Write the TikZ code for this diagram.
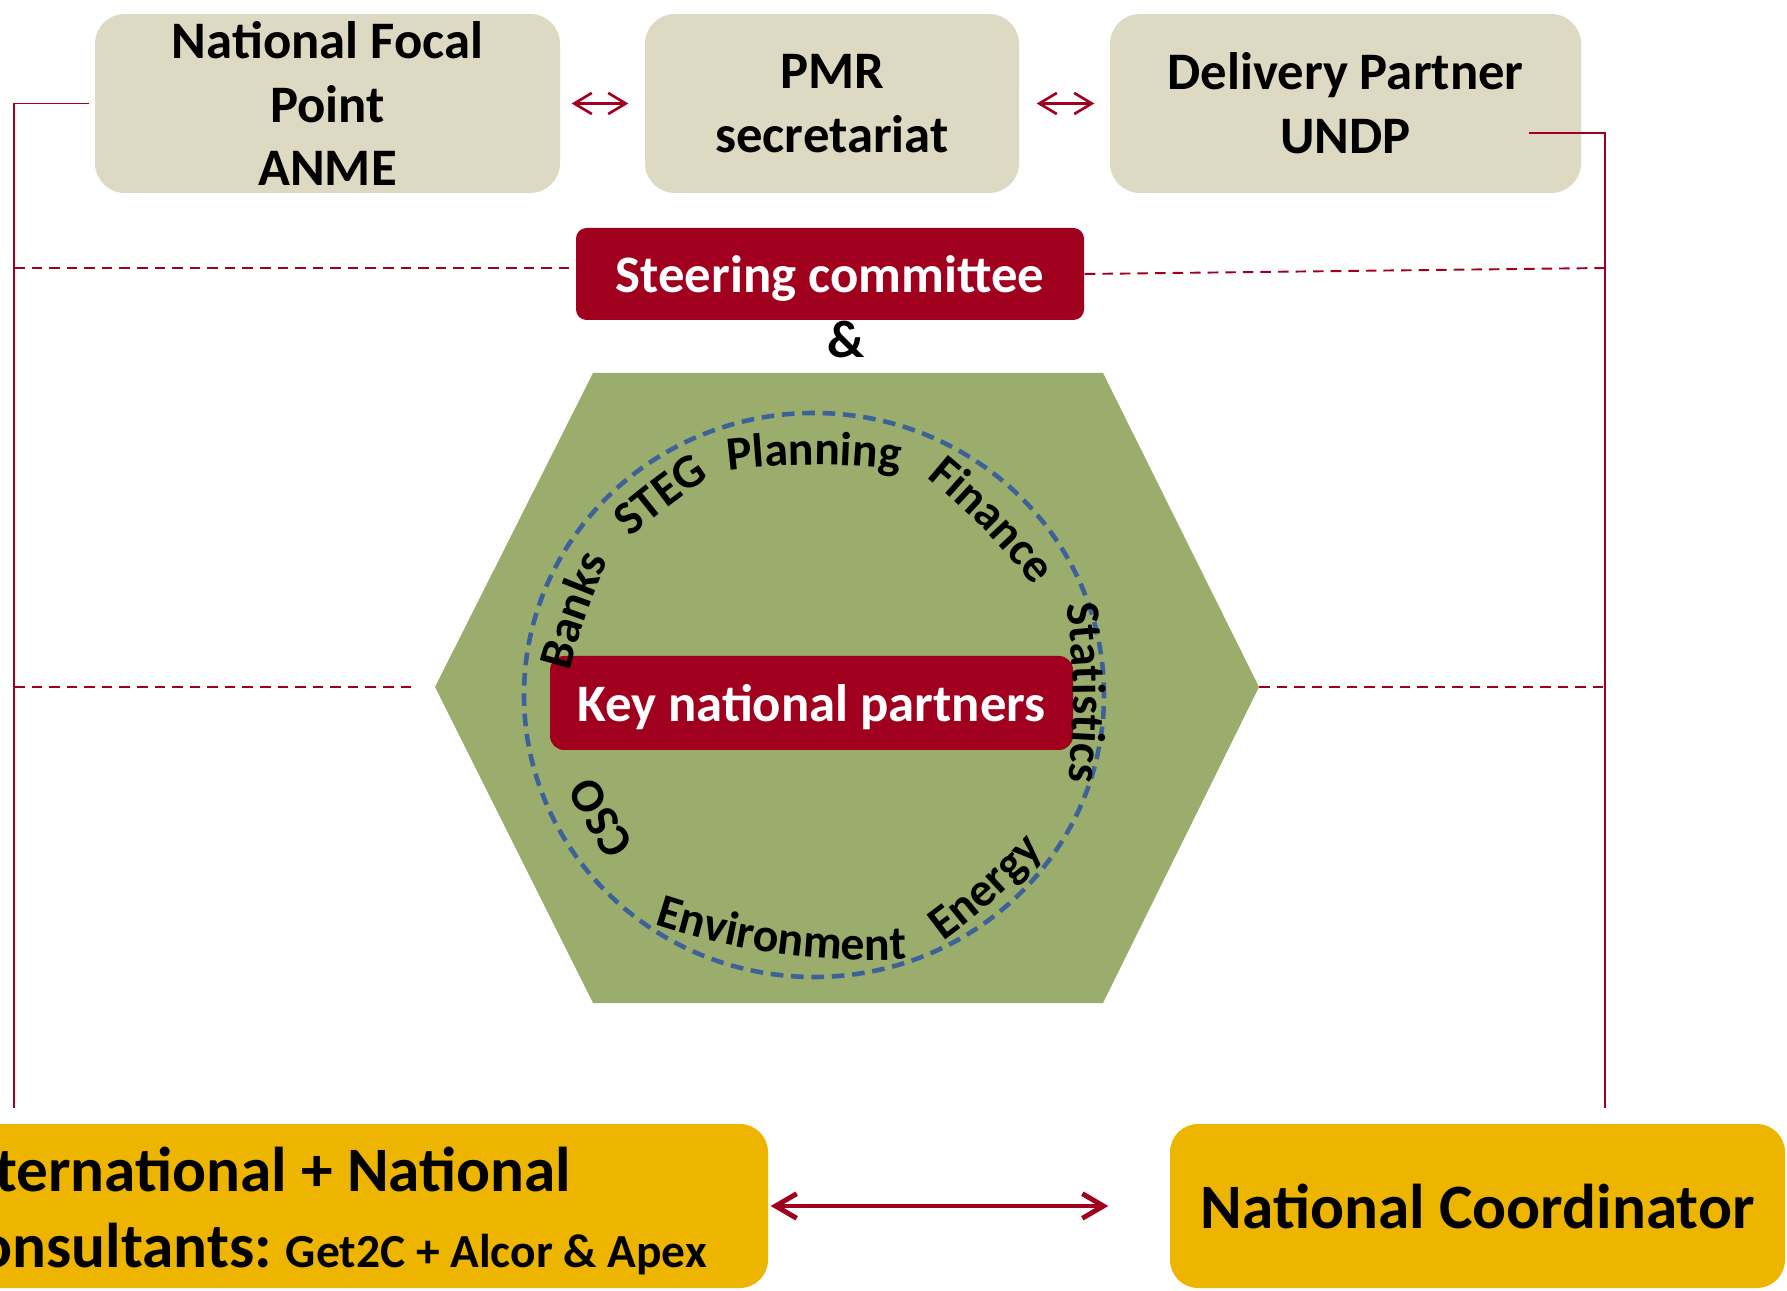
\documentclass[tikz,border=0pt]{standalone}
\usepackage{fontspec}
\setmainfont{Carlito}
\usetikzlibrary{arrows.meta,decorations.text,calc}

\definecolor{boxtan}{HTML}{DDD9C3}
\definecolor{deepred}{HTML}{A0001E}
\definecolor{hexgreen}{HTML}{9AAD6C}
\definecolor{ringblue}{HTML}{3D6299}
\definecolor{gold}{HTML}{EDB500}

\newcommand{\ringfont}{\fontsize{13.6}{16}\selectfont\bfseries}
% word on a flat arc: angle on the ring, baseline radius, word, +1 clockwise / -1 anticlockwise
\newcommand{\partnerarc}[4]{%
  \path[decorate, decoration={text along path, text align=center, text={|\ringfont|#3}}]
    ($(ring)+(#1:#2)-(#1:7)+(#1+18*#4:7)$) arc[start angle=#1+18*#4, end angle=#1-18*#4, radius=7];}

\tikzset{
  topbox/.style={fill=boxtan, rounded corners=8.5pt, align=center, inner sep=0pt,
    minimum height=1.79cm, font=\fontsize{15}{18.2}\selectfont\bfseries},
  redbox/.style={fill=deepred, text=white, inner sep=0pt, text depth=0pt,
    font=\fontsize{15}{18}\selectfont\bfseries},
  goldbox/.style={fill=gold, rounded corners=8pt, inner sep=0pt,
    minimum height=1.64cm, font=\fontsize{18}{21.6}\selectfont\bfseries},
  link/.style={draw=deepred, line width=0.5pt},
  dashlink/.style={draw=deepred, line width=0.55pt, dash pattern=on 3pt off 2pt},
  twoway/.style={draw=deepred, line width=0.75pt,
    {Straight Barb[length=5pt,width=6pt]}-{Straight Barb[length=5pt,width=6pt]}}
}

\begin{document}
\begin{tikzpicture}
  \useasboundingbox (0,0) rectangle (17.87,12.90);
  \clip (0,0) rectangle (17.87,12.90);

  % top row
  \node[topbox, minimum width=4.65cm] (nfp) at (3.275,11.865) {National Focal\\Point\\ANME};
  \node[topbox, minimum width=3.74cm] (pmr) at (8.32,11.865) {PMR\\secretariat};
  \node[topbox, minimum width=4.71cm] (dp) at (13.455,11.865) {Delivery Partner\\UNDP};
  \draw[twoway, shorten <=0.11cm, shorten >=0.16cm] (nfp) -- (pmr);
  \draw[twoway, shorten <=0.17cm, shorten >=0.15cm] (pmr) -- (dp);

  % steering committee
  \node[redbox, rounded corners=3pt, minimum width=5.08cm, minimum height=0.92cm] (steer) at (8.30,10.16) {Steering committee};
  \node[font=\fontsize{15}{18}\selectfont\bfseries] (amp) at (8.46,9.50) {\&};

  % hexagon with the ring of partners
  \coordinate (hl) at (4.35,6.03);
  \coordinate (hr) at (12.59,6.03);
  \fill[hexgreen] (hl) -- (5.93,9.17) -- (11.03,9.17) -- (hr) -- (11.03,2.87) -- (5.93,2.87) -- cycle;
  \coordinate (ring) at (8.14,5.95);
  \draw[ringblue, line width=1.3pt, dash pattern=on 3.6pt off 2.2pt] (ring) ellipse [x radius=2.9, y radius=2.82];
  \node[redbox, rounded corners=4pt, minimum width=5.23cm, minimum height=0.94cm] (key) at (8.115,5.87) {Key national partners};

  \partnerarc{90}{2.30}{Planning}{1}
  \partnerarc{127.5}{2.38}{STEG}{1}
  \partnerarc{44.5}{2.37}{Finance}{1}
  \partnerarc{0.5}{2.59}{Statistics}{1}
  \partnerarc{160.6}{2.41}{Banks}{1}
  \partnerarc{210}{2.31}{CSO}{1}
  \partnerarc{262.3}{2.61}{Environment}{-1}
  \partnerarc{311.7}{2.73}{Energy}{-1}

  % side links
  \coordinate (lb) at (0.14,1.82);
  \coordinate (rb) at (16.05,1.82);
  \coordinate (dpin) at (15.29,11.57);
  \draw[link, shorten <=0.05cm] (nfp.west) -| (lb);
  \draw[link] (dpin) -| (rb);

  \coordinate (lt) at (0.14,10.22);
  \coordinate (lm) at (0.14,6.03);
  \draw[dashlink] (lt) -- (lt -| steer.west);
  \draw[dashlink] (steer.east) -- (lt -| rb);
  \draw[dashlink, shorten >=0.22cm] (lm) -- (hl);
  \draw[dashlink] (hr) -- (lm -| rb);

  % bottom row
  \node[goldbox, text width=7.94cm, inner xsep=0.29cm, align=flush left] (cons) at (3.42,0.84)
    {\rule{0pt}{15.5pt}International + National\\Consultants:{\fontsize{13.5}{16}\selectfont{} Get2C + Alcor \& Apex}};
  \node[goldbox, minimum width=6.15cm] (natco) at (14.775,0.84) {National Coordinator};
  \draw[twoway, line width=1.4pt, {Straight Barb[length=6pt,width=7pt]}-{Straight Barb[length=6pt,width=7pt]},
    shorten <=0.02cm, shorten >=0.61cm] (cons) -- (natco);
\end{tikzpicture}
\end{document}
